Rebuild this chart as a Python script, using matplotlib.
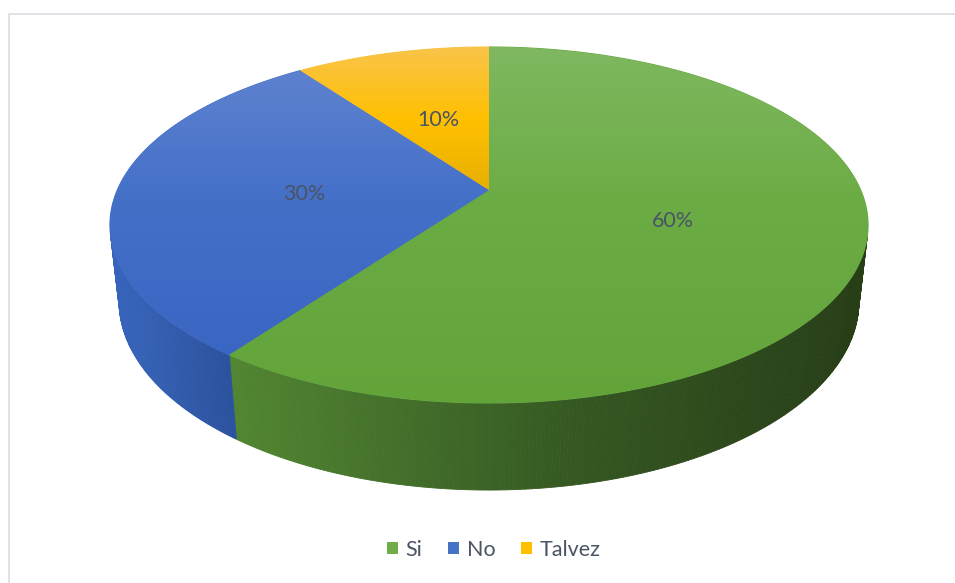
import numpy as np
import matplotlib
matplotlib.use('Agg')
import matplotlib.pyplot as plt
from matplotlib.patches import Polygon, Patch
from matplotlib.colors import to_rgb

# ---------------- data ----------------
categories = ['Si', 'No', 'Talvez']
values = [60, 30, 10]
pct_labels = ['60%', '30%', '10%']

# ---------------- style ----------------
legend_colors = ['#70ad47', '#4472c4', '#ffc000']
top_stops = [  # vertical gradient stops (pixel y, colour)
    [(47, '#7fb860'), (200, '#6cac45'), (403, '#62a33a')],
    [(60, '#6083d0'), (200, '#4470c8'), (360, '#3a66c3')],
    [(47, '#f9c44a'), (120, '#ffc000'), (195, '#e6ae00')],
]
side_stops = [  # horizontal gradient stops (pixel x, colour)
    [(236, '#518531'), (430, '#406b29'), (580, '#355722'), (860, '#273e17')],
    [(119, '#3764ba'), (238, '#2a509b')],
    [(0, '#c79500'), (955, '#c79500')],
]
text_color = '#4a5464'
FONT = 'Lato'

W, H = 955, 583
fig = plt.figure(figsize=(W / 100, H / 100), dpi=100)
ax = fig.add_axes([0, 0, 1, 1])
ax.set_xlim(0, W)
ax.set_ylim(H, 0)
ax.axis('off')

# ---------------- perspective camera ----------------
U0, V0 = 489.0, 190.0
F = 1678.0
beta = np.arcsin(0.4604)
D0 = 4.515
DEPTH = 0.2337
Ycam = D0 * np.cos(beta)
Zcam = Ycam * np.tan(beta)


def project(X, Y, Z):
    d = (Y + Ycam) * np.cos(beta) + (Zcam - Z) * np.sin(beta)
    yc = (Z - Zcam) * np.cos(beta) + (Y + Ycam) * np.sin(beta)
    return U0 + F * X / d, V0 - F * yc / d


def interp_color(stops, t):
    pos = np.array([s[0] for s in stops], float)
    cols = np.array([to_rgb(s[1]) for s in stops])
    return np.stack([np.interp(t, pos, cols[:, k]) for k in range(3)], axis=-1)


fr = np.array(values, float) / np.sum(values)
edges = np.concatenate([[0], np.cumsum(fr)]) * 2 * np.pi  # clockwise from top

# visible range of the side wall
phi_v1 = np.arccos(-1.0 / Ycam)
phi_v2 = 2 * np.pi - phi_v1

# ---------------- side walls ----------------
for i in range(len(values)):
    a, b = max(edges[i], phi_v1), min(edges[i + 1], phi_v2)
    if b <= a:
        continue
    n = max(4, int((b - a) / np.radians(0.5)))
    ph = np.linspace(a, b, n + 1)
    ut, vt = project(np.sin(ph), np.cos(ph), 0.0)
    ub, vb = project(np.sin(ph), np.cos(ph), -DEPTH)
    for j in range(n):
        quad = [(ut[j], vt[j]), (ut[j + 1], vt[j + 1]),
                (ub[j + 1], vb[j + 1]), (ub[j], vb[j])]
        c = interp_color(side_stops[i], 0.5 * (ut[j] + ut[j + 1]))
        ax.add_patch(Polygon(quad, closed=True, facecolor=c, edgecolor=c,
                             lw=0.6, zorder=1))

# ---------------- top faces ----------------
for i in range(len(values)):
    a, b = edges[i], edges[i + 1]
    n = max(8, int((b - a) / np.radians(0.5)))
    ph = np.linspace(a, b, n + 1)
    ut, vt = project(np.sin(ph), np.cos(ph), 0.0)
    uc, vc = project(0.0, 0.0, 0.0)
    pts = np.column_stack([np.concatenate([[uc], ut]), np.concatenate([[vc], vt])])
    mid = interp_color(top_stops[i], np.mean(pts[:, 1]))
    poly = Polygon(pts, closed=True, facecolor=mid, edgecolor=mid, lw=0.8, zorder=2)
    ax.add_patch(poly)
    y0, y1 = pts[:, 1].min() - 2, pts[:, 1].max() + 2
    x0, x1 = pts[:, 0].min() - 2, pts[:, 0].max() + 2
    ys = np.linspace(y0, y1, 200)
    img = interp_color(top_stops[i], ys)[:, None, :]
    im = ax.imshow(img, extent=[x0, x1, y1, y0], aspect='auto',
                   interpolation='bilinear', zorder=3)
    im.set_clip_path(poly)

    # percentage label at half radius of mid-angle
    m = 0.5 * (a + b)
    lu, lv = project(0.5 * np.sin(m), 0.5 * np.cos(m), 0.0)
    ax.annotate(pct_labels[i], (lu, lv), xytext=(1, -3), textcoords='offset points',
                ha='center', va='center', fontsize=15.5,
                family=FONT, color=text_color, zorder=5)

ax.set_xlim(0, W)
ax.set_ylim(H, 0)

# ---------------- chart frame ----------------
ax.plot([8.5, 8.5, W + 2], [H + 2, 13.5, 13.5], color='#d9dde3', lw=1.2,
        zorder=0, solid_joinstyle='miter')

# ---------------- legend ----------------
handles = [Patch(facecolor=c, edgecolor='none') for c in legend_colors]
leg = ax.legend(handles, categories, loc='center', ncol=3, frameon=False,
                bbox_to_anchor=(494 / W, 1 - 550 / H),
                prop={'family': FONT, 'size': 15.5}, labelcolor=text_color,
                handlelength=0.5, handleheight=0.5, handletextpad=0.35,
                columnspacing=1.2)

fig.savefig('out.png', dpi=100)
